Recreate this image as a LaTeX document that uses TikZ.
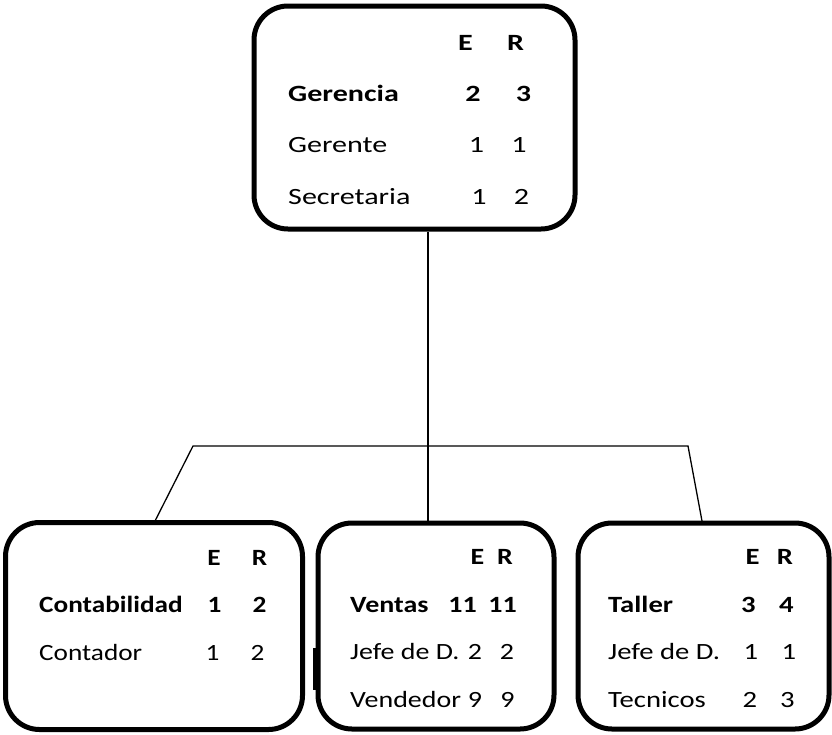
\documentclass[tikz,border=0pt]{standalone}
\usepackage{fontspec}
\setmainfont{Carlito}[FakeStretch=1.29]
% widened faces, one per unit box
\newfontfamily\famTop{Carlito}[FakeStretch=1.29]
\newfontfamily\famCont{Carlito}[FakeStretch=1.17]
\newfontfamily\famVent{Carlito}[FakeStretch=1.20]
\newfontfamily\famTall{Carlito}[FakeStretch=1.23]
\begin{document}
\begin{tikzpicture}[x=1pt,y=-1pt,
  unitbox/.style={draw, line width=5pt, rounded corners=34pt, inner sep=0pt},
  lbl/.style={anchor=base west, inner sep=0pt, font=\curfam\fontsize{23.3}{28}\selectfont},
  lblb/.style={lbl, font=\curfam\fontsize{23.3}{28}\selectfont\bfseries},
  num/.style={anchor=base, inner sep=0pt, font=\curfam\fontsize{23.3}{28}\selectfont},
  hd/.style={num, font=\curfam\fontsize{23.3}{28}\selectfont\bfseries},
  link/.style={line width=1.3pt}]
\useasboundingbox (0,0) rectangle (832,734);

% boxes
\node[unitbox, minimum width=321pt, minimum height=223pt] (top) at (414.5,117.5) {};
\node[unitbox, minimum width=297pt, minimum height=207pt] (cont) at (154,626) {};
\node[unitbox, minimum width=236pt, minimum height=206pt] (vent) at (436,626) {};
\node[unitbox, minimum width=251pt, minimum height=206pt] (tall) at (703.5,626) {};
\draw[line width=4pt] (315,648) -- (315,690);

% Gerencia
\def\curfam{\famTop}
\node[hd] (gE) at (465.5,50) {E};
\node[hd] (gR) at (515.5,50) {R};
\node[lblb] (g0) at (288,101) {Gerencia};
\node[hd] (g0e) at (473,101) {2};
\node[hd] (g0r) at (523.5,101) {3};
\node[lbl] (g1) at (288,152) {Gerente};
\node[num] (g1e) at (476.5,152) {1};
\node[num] (g1r) at (519,152) {1};
\node[lbl] (g2) at (288,204) {Secretaria};
\node[num] (g2e) at (479,204) {1};
\node[num] (g2r) at (521.5,204) {2};

% Contabilidad
\def\curfam{\famCont}
\node[hd] (cE) at (214,565) {E};
\node[hd] (cR) at (259.5,565) {R};
\node[lblb] (c0) at (39,612) {Contabilidad};
\node[hd] (c0e) at (214.5,612) {1};
\node[hd] (c0r) at (259.5,612) {2};
\node[lbl] (c1) at (39,660) {Contador};
\node[num] (c1e) at (212.5,660) {1};
\node[num] (c1r) at (257.5,660) {2};

% Ventas
\def\curfam{\famVent}
\node[hd] (vE) at (477.5,564) {E};
\node[hd] (vR) at (505,564) {R};
\node[lblb] (v0) at (350,612) {Ventas};
\node[hd] (v0e) at (462.5,612) {11};
\node[hd] (v0r) at (502.5,612) {11};
\node[lbl] (v1) at (350,659) {Jefe de D.};
\node[num] (v1e) at (475,659) {2};
\node[num] (v1r) at (507,659) {2};
\node[lbl] (v2) at (350,707) {Vendedor};
\node[num] (v2e) at (475,707) {9};
\node[num] (v2r) at (507.5,707) {9};

% Taller
\def\curfam{\famTall}
\node[hd] (tE) at (752.5,564) {E};
\node[hd] (tR) at (785,564) {R};
\node[lblb] (t0) at (608,612) {Taller};
\node[hd] (t0e) at (748.5,612) {3};
\node[hd] (t0r) at (786.5,612) {4};
\node[lbl] (t1) at (608,659) {Jefe de D.};
\node[num] (t1e) at (751,659) {1};
\node[num] (t1r) at (789,659) {1};
\node[lbl] (t2) at (608,707) {Tecnicos};
\node[num] (t2e) at (750,707) {2};
\node[num] (t2r) at (787.5,707) {3};

% connectors
\coordinate (topfoot) at (428,232);
\coordinate (ventfoot) at (428,521);
\coordinate (barL) at (193,446);
\coordinate (barR) at (688,446);
\coordinate (contfoot) at (155,521);
\coordinate (tallfoot) at (702,521);
\draw[link] (topfoot) -- (ventfoot);
\draw[link] (contfoot) -- (barL) -- (barR) -- (tallfoot);
\end{tikzpicture}
\end{document}
